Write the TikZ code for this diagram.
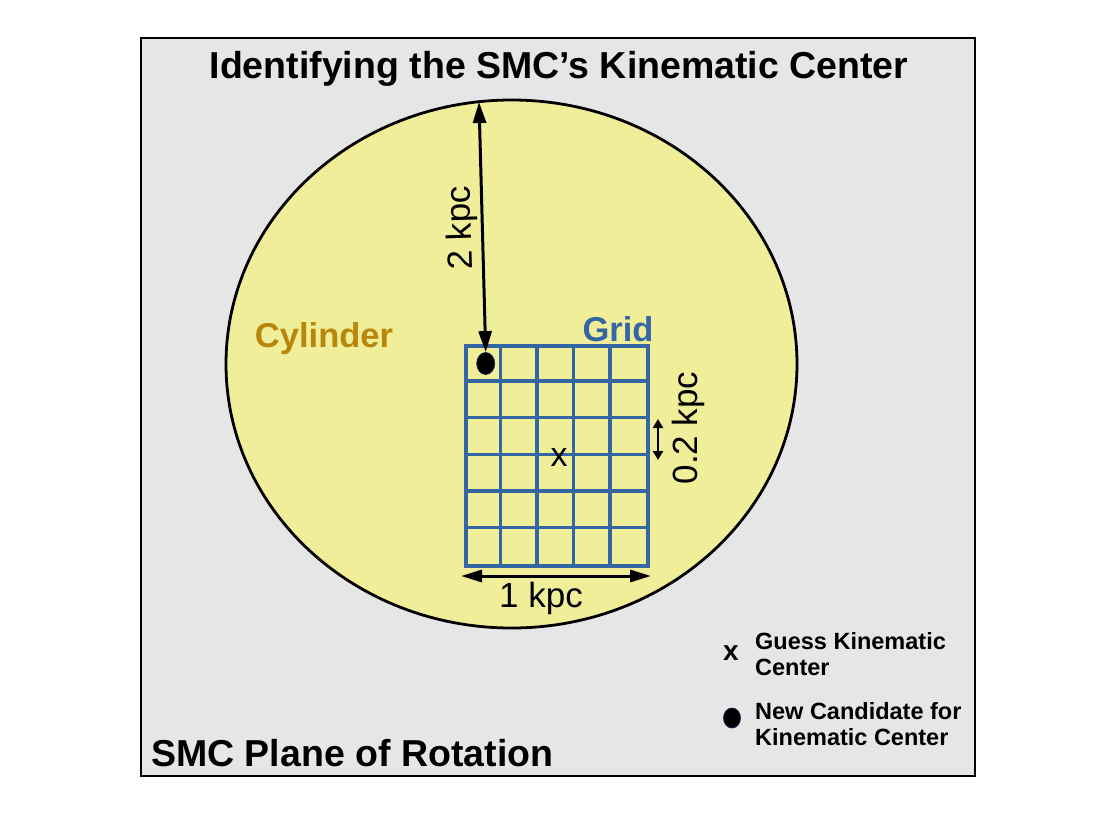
\documentclass[tikz,border=0pt]{standalone}
\usepackage{fontspec}
\setmainfont{Liberation Sans}
\usetikzlibrary{shapes.geometric,arrows.meta,calc}
\definecolor{panelgray}{RGB}{230,230,230}
\definecolor{cylfill}{RGB}{240,238,153}
\definecolor{gridblue}{RGB}{52,101,164}
\definecolor{cylgold}{RGB}{184,134,11}
\definecolor{dotedge}{RGB}{30,40,80}
\tikzset{
  bigarrow/.style={line width=3pt,{Triangle[length=21pt,width=13pt]}-{Triangle[length=21pt,width=13pt]}},
  smallarrow/.style={line width=2.8pt,{Triangle[length=9pt,width=10pt]}-{Triangle[length=9pt,width=10pt]}},
  gridline/.style={gridblue,line width=3.4pt},
  dimlabel/.style={font=\fontsize{35}{40}\selectfont,inner sep=0pt},
  heading/.style={font=\bfseries\fontsize{37.5}{44}\selectfont,inner sep=0pt},
  legendtext/.style={font=\bfseries\fontsize{23.5}{26}\selectfont,align=left,anchor=west,inner sep=0pt},
  centerdot/.style={ellipse,fill=black,draw=dotedge,line width=0.8pt,inner sep=0pt}
}
\begin{document}
\begin{tikzpicture}[x=1pt,y=-1pt]
\useasboundingbox (0,0) rectangle (1112,814);
\fill[white] (0,0) rectangle (1112,814);
\node[draw=black,fill=panelgray,line width=2.6pt,minimum width=834pt,minimum height=738pt,inner sep=0pt] (panel) at (558,407) {};
\node[heading] (title) at (559,69) {Identifying the SMC’s Kinematic Center};
\node[heading,anchor=west] (plane) at (151,753) {SMC Plane of Rotation};
\node[ellipse,draw=black,fill=cylfill,line width=2.8pt,minimum width=571pt,minimum height=528pt,inner sep=0pt] (cyl) at (511.5,364) {};
\node[font=\bfseries\fontsize{34.5}{40}\selectfont,text=cylgold,inner sep=0pt] (cyllabel) at (324,339) {Cylinder};
\node[font=\bfseries\fontsize{34.5}{40}\selectfont,text=gridblue,inner sep=0pt] (gridlabel) at (618,329) {Grid};
% grid
\node[draw=gridblue,line width=3.4pt,minimum width=182pt,minimum height=220pt,inner sep=0pt] (grid) at (557,456) {};
\foreach \i in {1,...,4} {
  \draw[gridline] ($(grid.north west)+(\i*36.4,0)$) -- ($(grid.south west)+(\i*36.4,0)$);
}
\foreach \j in {1,...,5} {
  \draw[gridline] ($(grid.north west)+(0,\j*36.667)$) -- ($(grid.north east)+(0,\j*36.667)$);
}
\node[font=\fontsize{34}{36}\selectfont,inner sep=0pt] (guess) at (559,458) {x};
\node[centerdot,minimum width=18pt,minimum height=22pt] (cand) at (485.7,363.5) {};
% 2 kpc
\coordinate (rtop) at (479,102);
\draw[bigarrow] (rtop) -- (cand.north);
\node[dimlabel,rotate=91.6] (rlabel) at (462,228) {2 kpc};
% 1 kpc
\coordinate (wl) at (461,576);
\coordinate (wr) at (651,576);
\draw[line width=3pt,{Triangle[length=21pt,width=12pt]}-{Triangle[length=21pt,width=12pt]}] (wl) -- (wr);
\node[dimlabel] (wlabel) at (541,598) {1 kpc};
% 0.2 kpc
\coordinate (sa) at (658,419);
\coordinate (sb) at (658,460);
\draw[smallarrow] (sa) -- (sb);
\node[dimlabel,rotate=90] (slabel) at (688,428) {0.2 kpc};
% legend
\node[font=\bfseries\fontsize{28}{30}\selectfont,inner sep=0pt] (legx) at (731,653) {x};
\node[legendtext] (legxt) at (755,654) {Guess Kinematic\\Center};
\node[centerdot,minimum width=17pt,minimum height=20pt] (legdot) at (732,718) {};
\node[legendtext] (legdt) at (755,724) {New Candidate for\\Kinematic Center};
\end{tikzpicture}
\end{document}
